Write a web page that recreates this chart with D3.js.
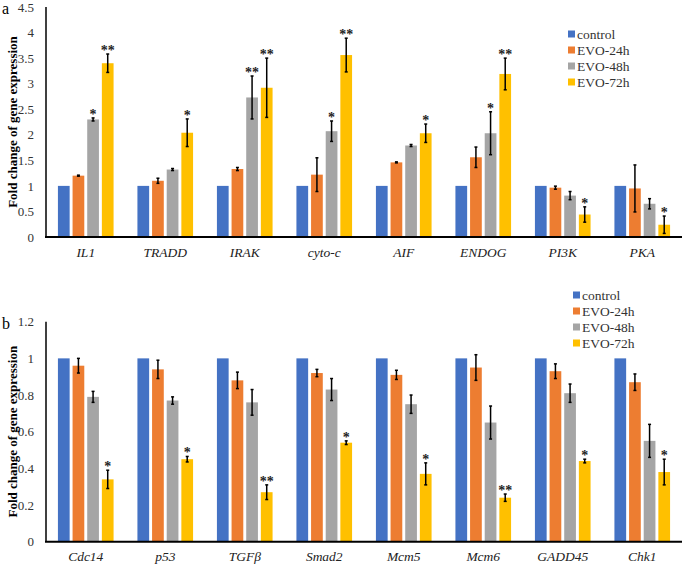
<!DOCTYPE html>
<html><head><meta charset="utf-8">
<script src="https://cdn.jsdelivr.net/npm/d3@7"></script>
<style>body{margin:0;background:#fff}svg{display:block}text{font-family:"Liberation Serif","Times New Roman",serif}</style>
</head><body><svg id="c" width="685" height="567"></svg>
<script>
const series = ["control","EVO-24h","EVO-48h","EVO-72h"];
const colors = ["#4472C4","#ED7D31","#A5A5A5","#FFC000"];

const catsA = ["IL1","TRADD","IRAK","cyto-c","AIF","ENDOG","PI3K","PKA"];
const controlA = [1,1,1,1,1,1,1,1];
const evo24A = [1.20,1.10,1.33,1.22,1.46,1.56,0.965,0.95];
const evo48A = [2.30,1.32,2.73,2.07,1.79,2.03,0.81,0.65];
const evo72A = [3.40,2.04,2.92,3.56,2.03,3.19,0.44,0.24];
const err24A = [0.01,0.05,0.03,0.33,0.01,0.20,0.03,0.46];
const err48A = [0.03,0.02,0.42,0.20,0.02,0.42,0.08,0.10];
const err72A = [0.18,0.27,0.58,0.33,0.18,0.31,0.15,0.17];
const sig48A = ["*","","**","*","","*","",""];
const sig72A = ["**","*","**","**","*","**","*","*"];
const ticksA = [0,0.5,1,1.5,2,2.5,3,3.5,4,4.5];

const catsB = ["Cdc14","p53","TGFβ","Smad2","Mcm5","Mcm6","GADD45","Chk1"];
const controlB = [1,1,1,1,1,1,1,1];
const evo24B = [0.96,0.94,0.88,0.92,0.91,0.95,0.93,0.87];
const evo48B = [0.79,0.77,0.76,0.83,0.75,0.65,0.81,0.55];
const evo72B = [0.34,0.45,0.27,0.54,0.37,0.24,0.44,0.38];
const err24B = [0.04,0.05,0.045,0.02,0.025,0.07,0.04,0.045];
const err48B = [0.03,0.02,0.07,0.06,0.05,0.09,0.05,0.09];
const err72B = [0.05,0.015,0.04,0.01,0.06,0.02,0.01,0.07];
const sig48B = ["","","","","","","",""];
const sig72B = ["*","*","**","*","*","**","*","*"];
const ticksB = [0,0.2,0.4,0.6,0.8,1,1.2];

const svg = d3.select("#c");

function panel(o){
  const g = svg.append("g");
  const x0 = d3.scaleBand().domain(o.cats).range([46,682]).paddingInner(0.3).paddingOuter(0.15);
  const x1 = d3.scaleBand().domain(series).range([0,x0.bandwidth()]).paddingInner(0.2);
  const y = d3.scaleLinear().domain([0,o.max]).range([o.bottom,o.top]);
  const vals = [o.ctrl,o.e24,o.e48,o.e72];
  const errs = [null,o.r24,o.r48,o.r72];
  const sigs = [null,null,o.s48,o.s72];
  const ya = d3.axisLeft(y).tickValues(o.ticks).tickSize(0).tickPadding(12).tickFormat(d=>String(d));
  const ag = g.append("g").attr("transform","translate(46,0)").call(ya);
  ag.select(".domain").remove();
  ag.selectAll("text").attr("font-size",13).attr("fill","#333");
  o.cats.forEach((c,i)=>{
    series.forEach((s,j)=>{
      const v = vals[j][i];
      const bx = x0(c)+x1(s);
      g.append("rect").attr("x",bx).attr("y",y(v)).attr("width",x1.bandwidth()).attr("height",y(0)-y(v)).attr("fill",colors[j]);
      if(errs[j]){
        const e = errs[j][i], cx = bx + x1.bandwidth()/2;
        g.append("line").attr("x1",cx).attr("x2",cx).attr("y1",y(v+e)).attr("y2",y(v-e)).attr("stroke","#000").attr("stroke-width",1.5);
        [v+e,v-e].forEach(t=>g.append("line").attr("x1",cx-1.5).attr("x2",cx+1.5).attr("y1",y(t)).attr("y2",y(t)).attr("stroke","#000").attr("stroke-width",1.5));
        if(sigs[j] && sigs[j][i]){
          g.append("text").attr("x",cx).attr("y",y(v+e)+1).attr("text-anchor","middle").attr("font-size",14).attr("font-weight","bold").attr("fill","#222").text(sigs[j][i]);
        }
      }
    });
  });
  g.append("line").attr("x1",46).attr("x2",46).attr("y1",o.top).attr("y2",o.bottom).attr("stroke","#000").attr("stroke-width",1.5);
  g.append("line").attr("x1",45).attr("x2",682).attr("y1",o.bottom).attr("y2",o.bottom).attr("stroke","#000").attr("stroke-width",2);
  const xa = d3.axisBottom(x0).tickSize(0).tickPadding(10);
  const xg = g.append("g").attr("transform",`translate(0,${o.bottom})`).call(xa);
  xg.select(".domain").remove();
  xg.selectAll("text").attr("font-size",13.5).attr("font-style","italic").attr("fill","#222");
  g.append("text").attr("transform",`translate(17,${(o.top+o.bottom)/2}) rotate(-90)`).attr("text-anchor","middle").attr("font-size",13).attr("font-weight","bold").text("Fold change of gene expression");
  g.append("text").attr("x",2).attr("y",o.top+7).attr("font-size",16).text(o.letter);
  series.forEach((s,j)=>{
    const ly = o.legY + j*16;
    g.append("rect").attr("x",o.legX).attr("y",ly-3.5).attr("width",7).attr("height",7).attr("fill",colors[j]);
    g.append("text").attr("x",o.legX+9).attr("y",ly+4.5).attr("font-size",13.5).attr("fill","#333").text(s);
  });
}

panel({cats:catsA,ctrl:controlA,e24:evo24A,e48:evo48A,e72:evo72A,r24:err24A,r48:err48A,r72:err72A,s48:sig48A,s72:sig72A,ticks:ticksA,max:4.5,top:7,bottom:237,letter:"a",legX:568,legY:34});
panel({cats:catsB,ctrl:controlB,e24:evo24B,e48:evo48B,e72:evo72B,r24:err24B,r48:err48B,r72:err72B,s48:sig48B,s72:sig72B,ticks:ticksB,max:1.2,top:321.7,bottom:541.7,letter:"b",legX:573,legY:295});
</script></body></html>
